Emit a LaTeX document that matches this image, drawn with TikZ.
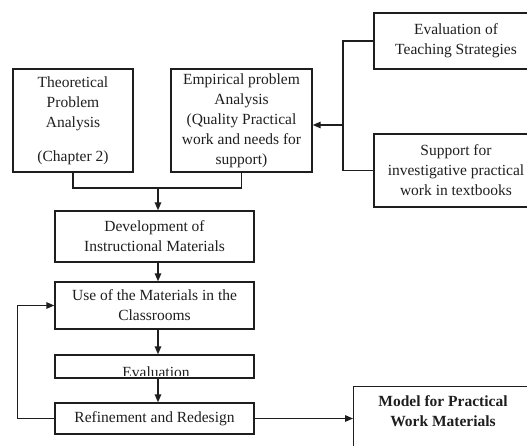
\documentclass[tikz,border=0pt]{standalone}
\usepackage{fontspec}
\setmainfont{Liberation Serif}
\usetikzlibrary{arrows.meta}
\definecolor{ink}{HTML}{1E1E1E}
\begin{document}
\begin{tikzpicture}[x=1pt,y=-1pt,
  txt/.style={font=\fontsize{15.5}{20}\selectfont, text=ink, align=center, inner sep=0pt},
  box/.style={txt, draw=ink, line width=1.4pt, rectangle},
  link/.style={draw=ink, line width=1.4pt},
  arr/.style={link, -{Triangle[length=8pt,width=6.5pt]}},
]
\useasboundingbox (0,0) rectangle (527,446);
\clip (0,0) rectangle (527,446);

% analysis boxes
\node[box, minimum width=120, minimum height=103] (theo) at (73,120.5)
  {\fontsize{15.5}{21.5}\selectfont Theoretical\\Problem\\Analysis\\[14pt](Chapter 2)};
\node[box, minimum width=141, minimum height=103] (emp) at (241.5,120.5)
  {Empirical problem\\Analysis\\(Quality Practical\\work and needs for\\support)};

% inputs on the right (cut by the page edge)
\node[box, minimum width=164, minimum height=56] (evts) at (456,41)
  {Evaluation of\\Teaching Strategies};
\node[box, minimum width=164, minimum height=73] (supp) at (456,170.5)
  {Support for\\investigative practical\\work in textbooks};

% design cycle
\node[box, minimum width=199, minimum height=51] (dev) at (154.5,236.5)
  {Development of\\Instructional Materials};
\node[box, minimum width=199, minimum height=47] (use) at (154.5,305.5)
  {Use of the Materials in the\\Classrooms};
\node[box, minimum width=199, minimum height=23] (evl) at (154.5,366.5) {};
\begin{scope}
  \clip (55,355) rectangle (254,375.5);
  \node[txt, anchor=base] (evltxt) at (156,377.5) {Evaluation};
\end{scope}
\node[box, minimum width=199, minimum height=31] (ref) at (154.5,418.5)
  {Refinement and Redesign};

% outcome
\node[box, minimum width=180, minimum height=74, anchor=north west] (model) at (353,386) {};
\node[txt, font=\fontsize{15.5}{20}\selectfont\bfseries, anchor=north] (modeltxt) at (443,395)
  {Model for Practical\\Work Materials};

% connectors
\coordinate (join) at (158,188);
\coordinate (spine) at (158,0);
\coordinate (fork) at (343,125);

\draw[link] (theo.south) |- (join) -| (emp.south);
\draw[arr] (join) -- (join |- dev.north);
\draw[link] (evts.west) -| (fork) |- (supp.west);
\draw[arr] (fork) -- (fork -| emp.east);

\draw[arr] (dev.south -| spine) -- (use.north -| spine);
\draw[arr] (use.south -| spine) -- (evl.north -| spine);
\draw[arr] (evl.south -| spine) -- (ref.north -| spine);

\draw[arr] (ref.west) -- ++(-37,0) |- (use.west);
\draw[arr] (ref.east) -- (ref.east -| model.west);
\end{tikzpicture}
\end{document}
